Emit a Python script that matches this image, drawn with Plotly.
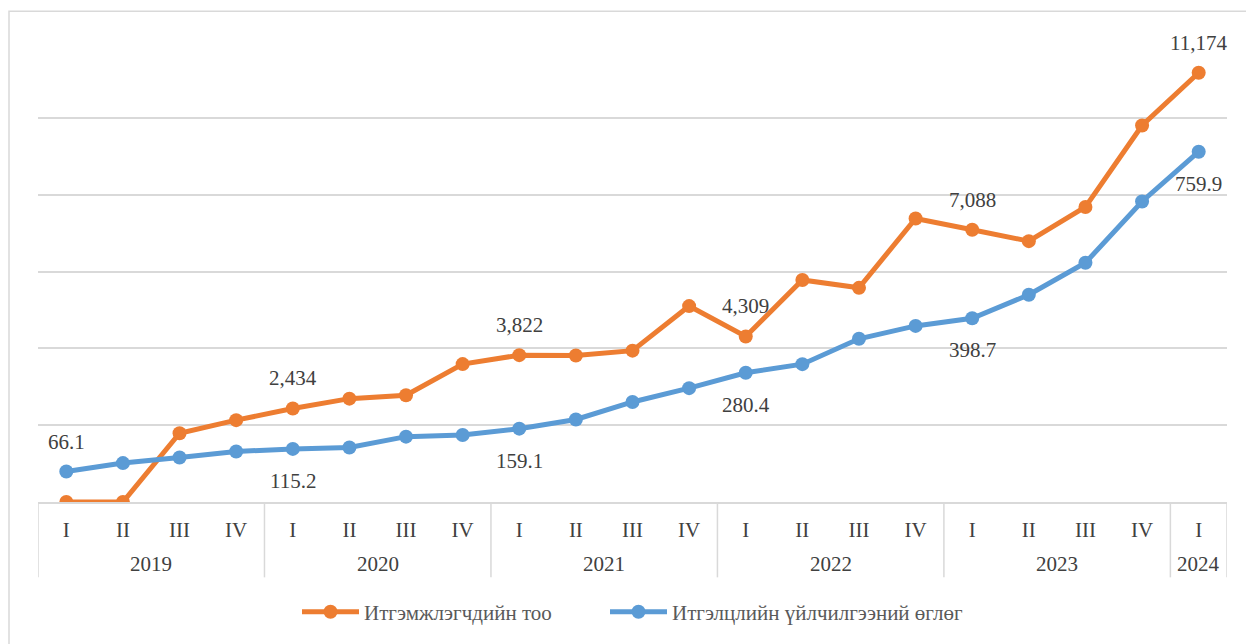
import plotly.graph_objects as go

years = ["2019"] * 4 + ["2020"] * 4 + ["2021"] * 4 + ["2022"] * 4 + ["2023"] * 4 + ["2024"]
quarters = ["I", "II", "III", "IV"] * 5 + ["I"]

trustors = [0, 0, 1790, 2130, 2434, 2690, 2780, 3590, 3822, 3815, 3940, 5100,
            4309, 5780, 5575, 7380, 7088, 6790, 7680, 9800, 11174]
trust_fees = [66.1, 84.4, 96.6, 109.5, 115.2, 118.1, 141.8, 145.3, 159.1, 179.0, 217.0, 247.0,
              280.4, 299.0, 354.0, 382.0, 398.7, 449.5, 519.0, 652.0, 759.9]

label_idx = [0, 4, 8, 12, 16, 20]
orange_label_idx = [4, 8, 12, 16, 20]

name_orange = "Итгэмжлэгчдийн тоо"
name_blue = "Итгэлцлийн үйлчилгээний өглөг"

ORANGE = "#ED7D31"
BLUE = "#5B9BD5"
TXT = "#404040"
GRID = "#D9D9D9"
FONT = "Liberation Serif"

W, H = 1246, 644
ML, MR, MT, MB = 38, 19, 41, 138
PW = W - ML - MR
PH = H - MT - MB

idx = list(range(len(quarters)))

fig = go.Figure()
fig.add_trace(go.Scatter(
    x=idx, y=trustors, name=name_orange, mode="lines+markers",
    line=dict(color=ORANGE, width=5), marker=dict(size=14, color=ORANGE),
    yaxis="y", legendwidth=236))
fig.add_trace(go.Scatter(
    x=idx, y=trust_fees, name=name_blue, mode="lines+markers",
    line=dict(color=BLUE, width=5), marker=dict(size=14, color=BLUE),
    yaxis="y2"))

annotations = []
for i in orange_label_idx:
    annotations.append(dict(x=i, y=trustors[i], xref="x", yref="y", text=f"{trustors[i]:,}",
                            showarrow=False, yshift=30, font=dict(family=FONT, size=21, color=TXT)))
for i in label_idx:
    shift = 30 if i == 0 else -32
    annotations.append(dict(x=i, y=trust_fees[i], xref="x", yref="y2", text=f"{trust_fees[i]:.1f}",
                            showarrow=False, yshift=shift, font=dict(family=FONT, size=21, color=TXT)))

# year group labels and dividers
groups = []
for i, yv in enumerate(years):
    if not groups or groups[-1][0] != yv:
        groups.append([yv, i, i])
    else:
        groups[-1][2] = i

div_bottom = -76 / PH
shapes = []
for yv, a, b in groups:
    annotations.append(dict(x=(a + b) / 2, y=0, xref="x", yref="paper", text=yv, showarrow=False,
                            yshift=-62, yanchor="middle",
                            font=dict(family=FONT, size=21, color=TXT)))
    shapes.append(dict(type="line", xref="x", yref="paper", x0=a - 0.5, x1=a - 0.5, y0=0, y1=div_bottom,
                       line=dict(color=GRID, width=1.5)))
shapes.append(dict(type="line", xref="x", yref="paper", x0=groups[-1][2] + 0.5, x1=groups[-1][2] + 0.5,
                   y0=0, y1=div_bottom, line=dict(color=GRID, width=1.5)))

# outer chart frame
shapes.append(dict(type="rect", xref="paper", yref="paper", x0=-29 / PW, x1=1.05, y0=-0.5,
                   y1=1 + 30 / PH,
                   line=dict(color=GRID, width=1.5), fillcolor="rgba(0,0,0,0)", layer="below"))

fig.update_layout(
    width=W, height=H,
    margin=dict(l=ML, r=MR, t=MT, b=MB),
    paper_bgcolor="white", plot_bgcolor="white",
    font=dict(family=FONT, size=21, color=TXT),
    showlegend=True,
    legend=dict(orientation="h", x=0.5, xanchor="center", y=-111 / PH, yanchor="middle",
                font=dict(family=FONT, size=21, color="#595959"), itemwidth=57),
    xaxis=dict(range=[-0.5, len(idx) - 0.5], tickvals=idx, ticktext=quarters, showline=True,
               linecolor=GRID, linewidth=1.5, ticks="", showgrid=False, zeroline=False,
               tickfont=dict(family=FONT, size=21, color=TXT), ticklabelstandoff=8),
    yaxis=dict(range=[0, 12000], dtick=2000, showticklabels=False, showgrid=True,
               gridcolor=GRID, gridwidth=1.5, zeroline=False, ticks=""),
    yaxis2=dict(range=[0, 1000], overlaying="y", showticklabels=False, showgrid=False,
                zeroline=False, ticks=""),
    annotations=annotations,
    shapes=shapes,
)

fig.write_html("out.html", config={"displayModeBar": False},
               post_script="document.body.style.margin='0';")
